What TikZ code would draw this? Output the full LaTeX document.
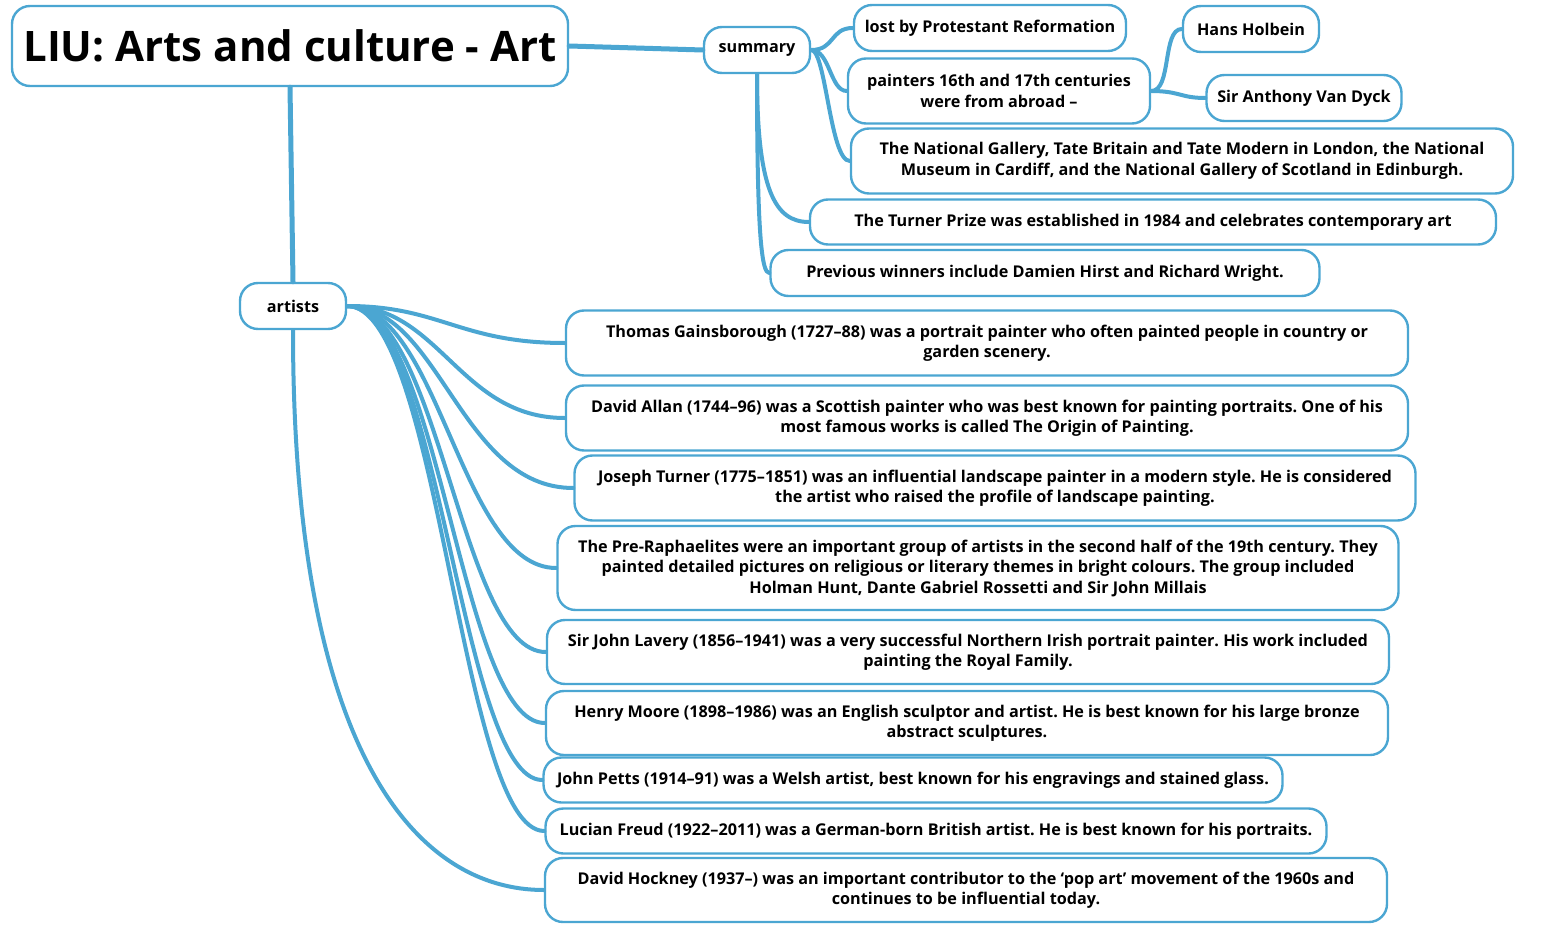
\documentclass[tikz,border=0pt]{standalone}
\usepackage{fontspec}
\setmainfont{Open Sans}
\frenchspacing
\definecolor{mapblue}{RGB}{75,166,210}
\tikzset{
  topic/.style={draw=mapblue, line width=2.4pt, fill=white, rounded corners=18pt,
    align=center, font=\bfseries\fontsize{16.2}{20.5}\selectfont, inner sep=0pt},
  branch/.style={mapblue, line width=5pt, line cap=round},
  twig/.style={mapblue, line width=4pt, line cap=round}
}
\begin{document}
\begin{tikzpicture}[x=1pt,y=-1pt]
  \useasboundingbox (0,0) rectangle (1552,936);
  % central topic and main branches
  \node[topic, minimum width=556pt, minimum height=80pt, font=\bfseries\fontsize{42}{48}\selectfont] (title) at (290,46) {LIU: Arts and culture - Art};
  \node[topic, minimum width=106pt, minimum height=46pt] (summary) at (757,50) {summary};
  \node[topic, minimum width=106pt, minimum height=46pt] (artists) at (293,306) {artists};
  % summary topics
  \node[topic, minimum width=272pt, minimum height=46pt] (lost) at (990,28) {lost by Protestant Reformation};
  \node[topic, minimum width=302pt, minimum height=65pt] (painters) at (999,91) {painters 16th and 17th centuries\\were from abroad --};
  \node[topic, minimum width=136pt, minimum height=46pt] (holbein) at (1251,29) {Hans Holbein};
  \node[topic, minimum width=195pt, minimum height=46pt] (vandyck) at (1304,98) {Sir Anthony Van Dyck};
  \node[topic, minimum width=662pt, minimum height=65pt] (galleries) at (1182,161) {The National Gallery, Tate Britain and Tate Modern in London, the National\\Museum in Cardiff, and the National Gallery of Scotland in Edinburgh.};
  \node[topic, minimum width=686pt, minimum height=45pt] (prize) at (1153,222) {The Turner Prize was established in 1984 and celebrates contemporary art};
  \node[topic, minimum width=549pt, minimum height=46pt] (winners) at (1045,273) {Previous winners include Damien Hirst and Richard Wright.};
  % artists topics
  \node[topic, minimum width=842pt, minimum height=65pt] (gainsborough) at (987,343) {Thomas Gainsborough (1727--88) was a portrait painter who often painted people in country or\\garden scenery.};
  \node[topic, minimum width=842pt, minimum height=65pt] (allan) at (987,418) {David Allan (1744--96) was a Scottish painter who was best known for painting portraits. One of his\\most famous works is called The Origin of Painting.};
  \node[topic, minimum width=841pt, minimum height=65pt] (turner) at (995,488) {Joseph Turner (1775--1851) was an influential landscape painter in a modern style. He is considered\\the artist who raised the profile of landscape painting.};
  \node[topic, minimum width=841pt, minimum height=84pt] (preraph) at (978,568) {The Pre-Raphaelites were an important group of artists in the second half of the 19th century. They\\painted detailed pictures on religious or literary themes in bright colours. The group included\\Holman Hunt, Dante Gabriel Rossetti and Sir John Millais};
  \node[topic, minimum width=842pt, minimum height=64pt] (lavery) at (968,652) {Sir John Lavery (1856--1941) was a very successful Northern Irish portrait painter. His work included\\painting the Royal Family.};
  \node[topic, minimum width=842pt, minimum height=64pt] (moore) at (967,723) {Henry Moore (1898--1986) was an English sculptor and artist. He is best known for his large bronze\\abstract sculptures.};
  \node[topic, minimum width=739pt, minimum height=45pt] (petts) at (913,780) {John Petts (1914--91) was a Welsh artist, best known for his engravings and stained glass.};
  \node[topic, minimum width=781pt, minimum height=45pt] (freud) at (936,831) {Lucian Freud (1922--2011) was a German-born British artist. He is best known for his portraits.};
  \node[topic, minimum width=842pt, minimum height=64pt] (hockney) at (966,890) {David Hockney (1937--) was an important contributor to the `pop art' movement of the 1960s and\\continues to be influential today.};
  % connectors
  \draw[branch] (title.east) -- (summary.west);
  \draw[branch] (title.south) -- (artists.north);
  \draw[twig] (summary.east) .. controls (835,50) and (830,28) .. (lost.west);
  \draw[twig] (summary.east) .. controls (830,50) and (830,91) .. (painters.west);
  \draw[twig] (summary.east) .. controls (826,50) and (830,161) .. (galleries.west);
  \draw[twig] (summary.south) .. controls (757,190) and (775,222) .. (prize.west);
  \draw[twig] (summary.south) .. controls (757,240) and (762,273) .. (winners.west);
  \draw[twig] (painters.east) .. controls (1172,91) and (1162,29) .. (holbein.west);
  \draw[twig] (painters.east) .. controls (1180,91) and (1180,98) .. (vandyck.west);
  \foreach \t in {gainsborough,allan,turner,preraph,lavery,moore,petts,freud}
    \draw[twig] (artists.east) .. controls (440,306) and (460,0 |- \t.west) .. (\t.west); % artist links
  \draw[twig] (artists.south) .. controls (293,760) and (420,890) .. (hockney.west);
\end{tikzpicture}
\end{document}
